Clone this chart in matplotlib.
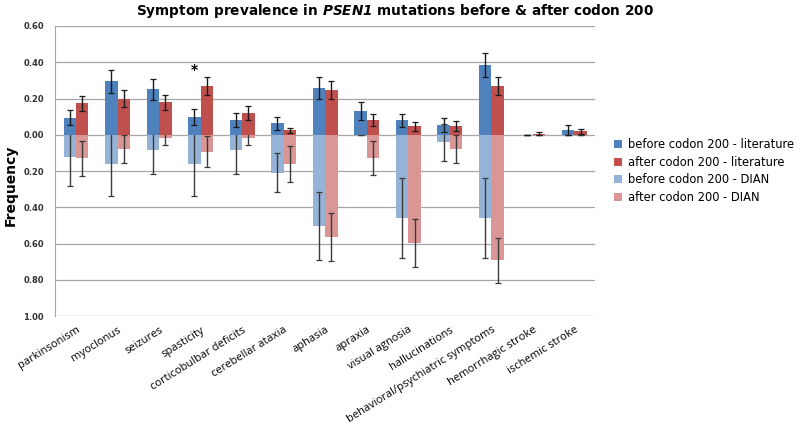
import matplotlib
matplotlib.use("Agg")
import matplotlib.pyplot as plt
import numpy as np
from matplotlib.ticker import FuncFormatter

categories = ['parkinsonism', 'myoclonus', 'seizures', 'spasticity',
              'corticobulbar deficits', 'cerebellar ataxia', 'aphasia',
              'apraxia', 'visual agnosia', 'hallucinations',
              'behavioral/psychiatric symptoms', 'hemorrhagic stroke',
              'ischemic stroke']

# literature (upward)
before_lit = [0.094, 0.294, 0.250, 0.097, 0.081, 0.064, 0.256, 0.130, 0.079, 0.053, 0.384, 0.000, 0.026]
before_lit_err = [0.040, 0.062, 0.060, 0.044, 0.040, 0.035, 0.060, 0.048, 0.038, 0.037, 0.068, 0.000, 0.026]
after_lit = [0.173, 0.200, 0.178, 0.268, 0.121, 0.024, 0.245, 0.083, 0.046, 0.048, 0.267, 0.007, 0.019]
after_lit_err = [0.043, 0.045, 0.044, 0.050, 0.037, 0.015, 0.050, 0.033, 0.025, 0.027, 0.050, 0.006, 0.012]

# DIAN (drawn downward)
before_dian = [0.123, 0.163, 0.083, 0.163, 0.083, 0.209, 0.501, 0.000, 0.457, 0.042, 0.457, 0.000, 0.000]
before_dian_err = [0.157, 0.177, 0.135, 0.177, 0.135, 0.109, 0.187, 0.000, 0.220, 0.100, 0.220, 0.000, 0.000]
after_dian = [0.130, 0.079, 0.017, 0.094, 0.017, 0.161, 0.564, 0.130, 0.597, 0.079, 0.692, 0.000, 0.000]
after_dian_err = [0.095, 0.075, 0.040, 0.085, 0.040, 0.100, 0.133, 0.093, 0.131, 0.075, 0.124, 0.000, 0.000]

c_blue = '#4F81BD'
c_red = '#C0504D'
c_lblue = '#95B3D7'
c_lred = '#D99694'

x = np.arange(len(categories))
w = 0.3

fig = plt.figure(figsize=(8, 4.33), dpi=100)
ax = fig.add_axes([0.069, 0.27, 0.675, 0.67])

ekw_d = dict(ecolor='#3a3a3a', elinewidth=1.0, capsize=2.5, capthick=0.9, fmt='none')
ekw_l = dict(ecolor='#1a1a1a', elinewidth=1.0, capsize=2.5, capthick=0.9, fmt='none')

ax.bar(x - w/2, -np.array(before_dian), w, color=c_lblue, zorder=2, label='before codon 200 - DIAN')
ax.bar(x + w/2, -np.array(after_dian), w, color=c_lred, zorder=2, label='after codon 200 - DIAN')
ax.errorbar(x - w/2, -np.array(before_dian), yerr=before_dian_err, zorder=3, **ekw_d)
ax.errorbar(x + w/2, -np.array(after_dian), yerr=after_dian_err, zorder=3, **ekw_d)

ax.bar(x - w/2, before_lit, w, color=c_blue, zorder=4, label='before codon 200 - literature')
ax.bar(x + w/2, after_lit, w, color=c_red, zorder=4, label='after codon 200 - literature')
ax.errorbar(x - w/2, before_lit, yerr=before_lit_err, zorder=5, **ekw_l)
ax.errorbar(x + w/2, after_lit, yerr=after_lit_err, zorder=5, **ekw_l)

# significance marker
ax.text(3 - w/2, 0.32, '*', ha='center', va='bottom', fontsize=10, fontweight='bold', zorder=6)

ax.set_xlim(-0.5, len(categories) - 0.5)
ax.set_ylim(-1.0, 0.6)
ax.set_yticks(np.arange(-1.0, 0.61, 0.2))
ax.yaxis.set_major_formatter(FuncFormatter(lambda v, p: f'{abs(v):.2f}'))
ax.grid(axis='y', color='#a6a6a6', linewidth=0.9, zorder=0)
ax.set_axisbelow(True)
for s in ['top', 'right', 'bottom']:
    ax.spines[s].set_visible(False)
ax.spines['left'].set_color('#a6a6a6')
ax.tick_params(axis='y', length=0, labelsize=6, labelcolor='#333333', pad=8)
for t in ax.get_yticklabels():
    t.set_fontweight('bold')
ax.tick_params(axis='x', length=0, pad=6)
ax.set_xticks(x)
ax.set_xticklabels(categories, rotation=32, ha='right', rotation_mode='anchor',
                   fontsize=8, family=['Open Sans', 'DejaVu Sans'])

fig.text(0.014, 0.573, 'Frequency', rotation=90, ha='center', va='center',
         fontsize=10, fontweight='bold', family=['Liberation Sans Narrow', 'DejaVu Sans'])

fig.text(0.494, 0.975, r'Symptom prevalence in $\mathbfit{PSEN1}$ mutations before & after codon 200',
         ha='center', va='center', fontsize=9.8, fontweight='bold')

handles, labels = ax.get_legend_handles_labels()
order = [2, 3, 0, 1]
leg = fig.legend([handles[i] for i in order], [labels[i] for i in order],
                 loc='center left', bbox_to_anchor=(0.755, 0.605), frameon=False,
                 fontsize=8.3, handlelength=0.7, handleheight=0.7,
                 handletextpad=0.5, labelspacing=0.4)

fig.savefig('out.png', dpi=100)
